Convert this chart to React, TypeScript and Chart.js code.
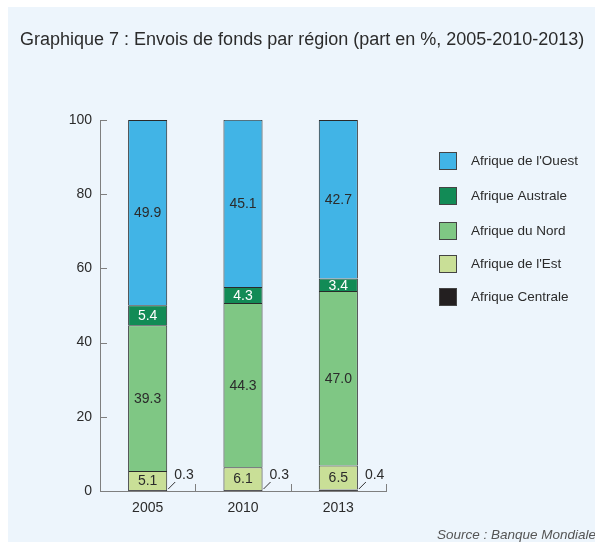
import React, { useEffect, useRef } from "react";
import { Chart, registerables } from "chart.js";

Chart.register(...registerables);

const years = ["2005", "2010", "2013"];
const centrale = [0.3, 0.3, 0.4];
const est = [5.1, 6.1, 6.5];
const nord = [39.3, 44.3, 47.0];
const australe = [5.4, 4.3, 3.4];
const ouest = [49.9, 45.1, 42.7];
const yTicks = [0, 20, 40, 60, 80, 100];

const FONT = "'Liberation Sans', Arial, Helvetica, sans-serif";
const C_CENTRALE = "#231f20";
const C_EST = "#c9df97";
const C_NORD = "#7fc784";
const C_AUSTRALE = "#128b56";
const C_OUEST = "#41b4e6";
const AXIS = "#7f7f7f";
const TEXT = "#2b2b2b";

const decorPlugin = {
  id: "decor",
  beforeDraw(chart: any) {
    const ctx = chart.ctx;
    ctx.save();
    ctx.fillStyle = "#edf5fc";
    ctx.fillRect(8, 7, chart.width - 8, chart.height - 7);
    ctx.fillStyle = TEXT;
    ctx.font = `18px ${FONT}`;
    ctx.textBaseline = "middle";
    ctx.textAlign = "left";
    ctx.fillText("Graphique 7 : Envois de fonds par région (part en %, 2005-2010-2013)", 20, 40);
    ctx.fillStyle = "#555";
    ctx.font = `italic 13.5px ${FONT}`;
    ctx.fillText("Source : Banque Mondiale", 437, 535);
    ctx.restore();
  },
  afterDatasetsDraw(chart: any) {
    const ctx = chart.ctx;
    const ys = chart.scales.y;
    const area = chart.chartArea;
    ctx.save();
    // axis ticks (inward)
    ctx.strokeStyle = AXIS;
    ctx.lineWidth = 1;
    yTicks.forEach((v) => {
      const y = Math.round(ys.getPixelForValue(v)) + 0.5;
      ctx.beginPath();
      ctx.moveTo(area.left, y);
      ctx.lineTo(area.left + 7, y);
      ctx.stroke();
    });
    const n = years.length;
    for (let i = 0; i <= n; i++) {
      const x = Math.round(area.left + ((area.right - area.left) * i) / n) + 0.5;
      ctx.beginPath();
      ctx.moveTo(x, area.bottom);
      ctx.lineTo(x, area.bottom - 7);
      ctx.stroke();
    }
    // value labels
    ctx.font = `14px ${FONT}`;
    ctx.textBaseline = "middle";
    chart.data.datasets.forEach((ds: any, di: number) => {
      const meta = chart.getDatasetMeta(di);
      meta.data.forEach((el: any, i: number) => {
        const v = ds.data[i];
        const label = v.toFixed(1);
        const right = el.x + el.width / 2;
        if (v < 1) {
          ctx.strokeStyle = "#333";
          ctx.beginPath();
          ctx.moveTo(right + 1, el.base - 2);
          ctx.lineTo(right + 8, el.base - 9);
          ctx.stroke();
          ctx.fillStyle = TEXT;
          ctx.textAlign = "left";
          ctx.fillText(label, right + 7, el.base - 16);
        } else {
          ctx.fillStyle = ds.labelColor;
          ctx.textAlign = "center";
          ctx.fillText(label, el.x, (el.y + el.base) / 2 + 1);
        }
      });
    });
    // legend
    const order = [...chart.data.datasets].reverse();
    const legendY = [161, 196, 231, 264, 297];
    ctx.font = `13.5px ${FONT}`;
    ctx.textAlign = "left";
    order.forEach((ds: any, i: number) => {
      const cy = legendY[i];
      ctx.fillStyle = ds.backgroundColor;
      ctx.fillRect(439, cy - 9, 18, 18);
      ctx.strokeStyle = "#444";
      ctx.strokeRect(439.5, cy - 8.5, 17, 17);
      ctx.fillStyle = TEXT;
      ctx.fillText(ds.label, 471, cy);
    });
    ctx.restore();
  },
};

export default function App() {
  const ref = useRef<HTMLCanvasElement>(null);
  useEffect(() => {
    if (!ref.current) return;
    const mk = (label: string, data: number[], color: string, labelColor: string) => ({
      label,
      data,
      backgroundColor: color,
      borderColor: "#2a2a2a",
      borderWidth: 1,
      labelColor,
      categoryPercentage: 1,
      barPercentage: 0.41,
    });
    const chart = new Chart(ref.current, {
      type: "bar",
      data: {
        labels: years,
        datasets: [
          mk("Afrique Centrale", centrale, C_CENTRALE, "#fff"),
          mk("Afrique de l'Est", est, C_EST, TEXT),
          mk("Afrique du Nord", nord, C_NORD, TEXT),
          mk("Afrique Australe", australe, C_AUSTRALE, "#ffffff"),
          mk("Afrique de l'Ouest", ouest, C_OUEST, TEXT),
        ] as any,
      },
      options: {
        responsive: false,
        animation: false,
        layout: { padding: { left: 0, top: 120, right: 209, bottom: 0 } },
        plugins: { legend: { display: false }, tooltip: { enabled: false }, title: { display: false } },
        scales: {
          x: {
            stacked: true,
            grid: { display: false, drawTicks: false },
            border: { display: true, color: AXIS, width: 1 },
            ticks: { padding: 9, color: TEXT, font: { family: FONT, size: 14 } },
            afterFit: (s: any) => { s.height = 51; },
          },
          y: {
            stacked: true,
            min: 0,
            max: 100,
            grid: { display: false, drawTicks: false },
            border: { display: true, color: AXIS, width: 1 },
            ticks: { stepSize: 20, padding: 8, color: TEXT, font: { family: FONT, size: 14 } },
            afterFit: (s: any) => { s.width = 100; },
          },
        },
      },
      plugins: [decorPlugin],
    });
    return () => chart.destroy();
  }, []);
  return (
    <div style={{ position: "absolute", left: 0, top: 0, width: 595, height: 542 }}>
      <canvas ref={ref} width={595} height={542} />
    </div>
  );
}
